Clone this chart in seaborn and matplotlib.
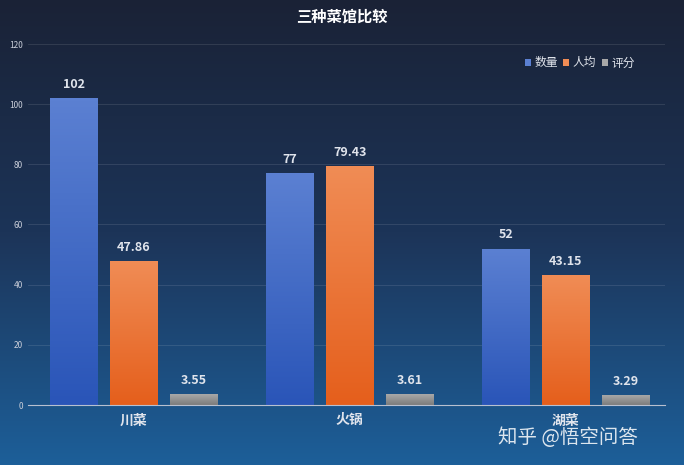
import numpy as np
import pandas as pd
import matplotlib
matplotlib.use('Agg')
import matplotlib.pyplot as plt
import seaborn as sns
from matplotlib.colors import LinearSegmentedColormap

plt.rcParams['font.family'] = 'Noto Sans CJK SC'

# 데이터
categories = ['川菜', '火锅', '湖菜']
series = ['数量', '人均', '评分']
count_vals = [102, 77, 52]
price_vals = [47.86, 79.43, 43.15]
score_vals = [3.55, 3.61, 3.29]
labels = [['102', '77', '52'], ['47.86', '79.43', '43.15'], ['3.55', '3.61', '3.29']]

df = pd.DataFrame({
    'cat': categories * 3,
    'series': [s for s in series for _ in categories],
    'val': count_vals + price_vals + score_vals,
})

bar_top = ['#5b80d2', '#f08c55', '#a8a8a8']
bar_bot = ['#2a55b8', '#e55f1c', '#7c7c7c']

fig = plt.figure(figsize=(6.84, 4.65), dpi=100)
# 배경 그라데이션
bg = fig.add_axes([0, 0, 1, 1])
bg_cmap = LinearSegmentedColormap.from_list('bg', ['#1a2236', '#1c3458', '#1d5f99'])
grad = np.linspace(0, 1, 256).reshape(-1, 1)
bg.imshow(grad, aspect='auto', cmap=bg_cmap, extent=[0, 1, 0, 1])
bg.axis('off')

ax = fig.add_axes([28 / 684, 60 / 465, 637 / 684, 361 / 465])
ax.patch.set_alpha(0)
sns.barplot(data=df, x='cat', y='val', hue='series', palette=bar_bot,
            width=0.83, gap=0.2, ax=ax, legend=True)

# 막대에 그라데이션 입히기
for i, cont in enumerate(ax.containers):
    cmap = LinearSegmentedColormap.from_list('b%d' % i, [bar_bot[i], bar_top[i]])
    for j, p in enumerate(cont.patches):
        x0, w, h = p.get_x(), p.get_width(), p.get_height()
        img = ax.imshow(np.linspace(0, 1, 100).reshape(-1, 1), cmap=cmap, origin='lower',
                        extent=[x0, x0 + w, 0, h], aspect='auto', zorder=p.get_zorder())
        img.set_clip_path(p)
        p.set_facecolor('none')
        ax.text(x0 + w / 2, h + 2.5, labels[i][j], ha='center', va='bottom',
                color='#e0e4ec', fontsize=9, fontweight='bold')

ax.set_xlim(-0.49, 2.46)
ax.set_ylim(0, 120)
ax.set_yticks(range(0, 121, 20))
ax.tick_params(axis='y', colors='#c8cdd8', labelsize=6, length=0)
ax.tick_params(axis='x', colors='#e0e4ec', labelsize=10, length=0, pad=6)
for t in ax.get_xticklabels():
    t.set_fontweight('bold')
ax.grid(axis='y', color='#ffffff', alpha=0.12, linewidth=0.6)
ax.set_axisbelow(True)
for s in ['top', 'right', 'left']:
    ax.spines[s].set_visible(False)
ax.spines['bottom'].set_color('#b8c0d0')
ax.set_xlabel('')
ax.set_ylabel('')

h, l = ax.get_legend_handles_labels()
for hh, c in zip(h, bar_top):
    hh.set_facecolor(c)
leg = ax.legend(h, l, loc='upper right', bbox_to_anchor=(0.97, 0.995), ncol=3, frameon=False,
                fontsize=8.5, handlelength=0.5, handleheight=0.5, handletextpad=0.3, columnspacing=0.5,
                labelcolor='#dfe3ea')

fig.text(0.5, 0.965, '三种菜馆比较', ha='center', va='center', color='white',
         fontsize=11, fontweight='bold')
fig.text(0.83, 0.06, '知乎 @悟空问答', ha='center', va='center', color='white',
         fontsize=14, alpha=0.85)

fig.savefig('out.png', dpi=100)
